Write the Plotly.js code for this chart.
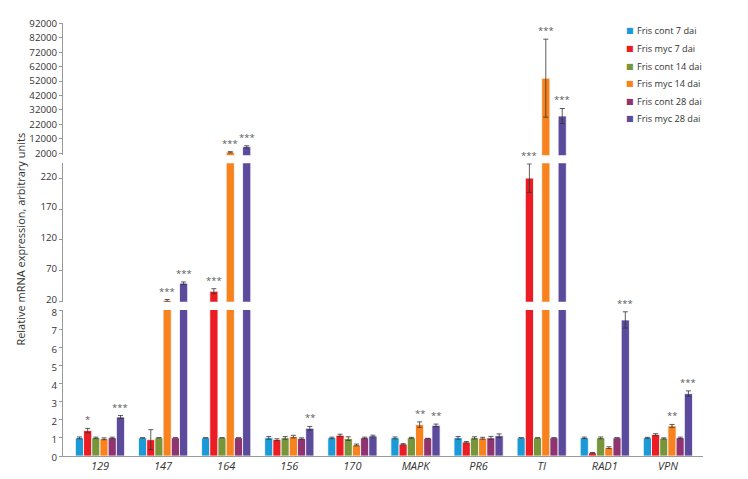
<!DOCTYPE html>
<html>
<head>
<meta charset="utf-8">
<script src="https://cdn.plot.ly/plotly-3.0.1.min.js"></script>
<style>html,body{margin:0;padding:0;background:#fff}#chart{width:748px;height:479px}</style>
</head>
<body>
<div id="chart"></div>
<script>
const categories = ['129','147','164','156','170','MAPK','PR6','TI','RAD1','VPN'];
const seriesNames = ['Fris cont 7 dai','Fris myc 7 dai','Fris cont 14 dai','Fris myc 14 dai','Fris cont 28 dai','Fris myc 28 dai'];
const seriesColors = ['#1b9ad7','#ec1c24','#77953a','#f7821e','#8f3470','#5c4a9c'];

const cont7  = [1, 1, 1, 1, 1, 1, 1, 1, 1, 1];
const cont7Err = [0.05, 0, 0, 0.07, 0.04, 0.05, 0.07, 0, 0.04, 0.03];
const myc7   = [1.4, 0.9, 37, 0.9, 1.14, 0.65, 0.76, 220, 0.17, 1.18];
const myc7Err = [0.12, 0.55, 4, 0.05, 0.06, 0.03, 0.04, 23, 0.02, 0.05];
const cont14 = [1, 1, 1, 1, 0.96, 1, 1, 1, 1, 0.97];
const cont14Err = [0.04, 0, 0, 0.07, 0.1, 0.03, 0.06, 0, 0.05, 0.03];
const myc14  = [0.95, 22, 2700, 1.07, 0.61, 1.73, 0.98, 54000, 0.46, 1.66];
const myc14Err = [0.05, 1.5, 400, 0.07, 0.05, 0.15, 0.05, 27000, 0.05, 0.08];
const cont28 = [1, 1, 1, 0.96, 1, 0.97, 1, 1, 1, 1];
const cont28Err = [0.04, 0, 0, 0.04, 0.04, 0, 0.08, 0, 0, 0.04];
const myc28  = [2.15, 50, 6500, 1.53, 1.1, 1.69, 1.12, 27800, 7.5, 3.44];
const myc28Err = [0.08, 2, 700, 0.1, 0.05, 0.07, 0.1, 5200, 0.45, 0.15];

const sigCont7  = ['', '', '', '', '', '', '', '', '', ''];
const sigMyc7   = ['*', '', '***', '', '', '', '', '***', '', ''];
const sigCont14 = ['', '', '', '', '', '', '', '', '', ''];
const sigMyc14  = ['', '***', '***', '', '', '**', '', '***', '', '**'];
const sigCont28 = ['', '', '', '', '', '', '', '', '', ''];
const sigMyc28  = ['***', '***', '***', '**', '', '**', '', '***', '***', '***'];

const bottomTicks = [0,1,2,3,4,5,6,7,8];
const middleTicks = [20,70,120,170,220];
const topTicks = [2000,12000,22000,32000,42000,52000,62000,72000,82000,92000];

const values = [cont7, myc7, cont14, myc14, cont28, myc28];
const errors = [cont7Err, myc7Err, cont14Err, myc14Err, cont28Err, myc28Err];
const sigs = [sigCont7, sigMyc7, sigCont14, sigMyc14, sigCont28, sigMyc28];

const FONT = 'Open Sans, sans-serif';
// axis segments of the broken y axis: [axis id, lower bound, upper bound]
const segments = [['y', 0, 8.05], ['y2', 20, 244], ['y3', 600, 92200]];
const traces = [];
values.forEach((vals, s) => {
  segments.forEach(([ax, lo]) => {
    traces.push({
      type: 'bar', x: categories, y: vals.map(v => (v > lo ? v : null)), xaxis: 'x', yaxis: ax,
      name: seriesNames[s], showlegend: false,
      marker: {color: seriesColors[s], line: {color: '#ffffff', width: 0.8}},
      error_y: {type: 'data', array: errors[s], visible: true, color: '#333333', thickness: 0.8, width: 2.5},
      hoverinfo: 'skip'
    });
  });
});

const bargap = 0.22;
const groupW = 1 - bargap;
const barW = groupW / 6;
const annotations = [];
sigs.forEach((arr, s) => {
  arr.forEach((txt, i) => {
    if (!txt) return;
    const v = values[s][i];
    const seg = segments.filter(([, lo]) => v > lo).pop();
    annotations.push({
      x: i - groupW / 2 + barW * (s + 0.5), y: v + errors[s][i], xref: 'x', yref: seg[0],
      text: txt, showarrow: false, yanchor: 'bottom', yshift: 0,
      font: {family: FONT, size: 9.5, color: '#5a5a5a'}
    });
  });
});
annotations.push({
  xref: 'paper', yref: 'paper', x: -0.067, y: 0.5, text: 'Relative mRNA expression, arbitrary units',
  textangle: -90, showarrow: false, xanchor: 'center', yanchor: 'middle',
  font: {family: FONT, size: 11, color: '#333333'}
});
// legend (square + label per series)
const legTop = 1.0 - (31 - 23) / 433, legStep = 17.6 / 433;
seriesNames.forEach((nm, s) => {
  const yy = legTop - s * legStep;
  annotations.push({xref: 'paper', yref: 'paper', x: (630 - 63) / 640, y: yy, xanchor: 'center', yanchor: 'middle',
    text: '■', showarrow: false, font: {family: 'DejaVu Sans', size: 8, color: seriesColors[s]}});
  annotations.push({xref: 'paper', yref: 'paper', x: (635 - 63) / 640, y: yy, xanchor: 'left', yanchor: 'middle',
    text: nm, showarrow: false, font: {family: FONT, size: 9.2, color: '#333333'}});
});

const yCommon = {
  anchor: 'x', showline: true, linecolor: '#999999', linewidth: 1,
  ticks: 'outside', ticklen: 3, tickcolor: '#999999', showgrid: false, zeroline: false,
  tickfont: {family: FONT, size: 9.7, color: '#333333'},
  tickmode: 'array', fixedrange: true
};

const layout = {
  width: 748, height: 479,
  margin: {l: 63, r: 45, t: 23, b: 23},
  paper_bgcolor: '#ffffff', plot_bgcolor: '#ffffff',
  barmode: 'group', bargap: bargap, bargroupgap: 0,
  showlegend: false,
  xaxis: {type: 'category', anchor: 'y', range: [-0.586, 9.556], showline: true, linecolor: '#999999',
    ticks: '', showgrid: false, zeroline: false, fixedrange: true,
    tickfont: {family: FONT, size: 11, color: '#333333', style: 'italic'}},
  yaxis: Object.assign({}, yCommon, {domain: [0, 0.3372], range: [segments[0][1], segments[0][2]], tickvals: bottomTicks, ticktext: bottomTicks.map(String), ticklabelshift: 2}),
  yaxis2: Object.assign({}, yCommon, {domain: [0.3564, 0.676], range: [segments[1][1], segments[1][2]], tickvals: middleTicks, ticktext: middleTicks.map(String), ticklabelshift: -2}),
  yaxis3: Object.assign({}, yCommon, {domain: [0.6945, 1], range: [segments[2][1], segments[2][2]], tickvals: topTicks, ticktext: topTicks.map(String)}),
  annotations: annotations
};

Plotly.newPlot('chart', traces, layout, {displayModeBar: false, staticPlot: true});
</script>
</body>
</html>
